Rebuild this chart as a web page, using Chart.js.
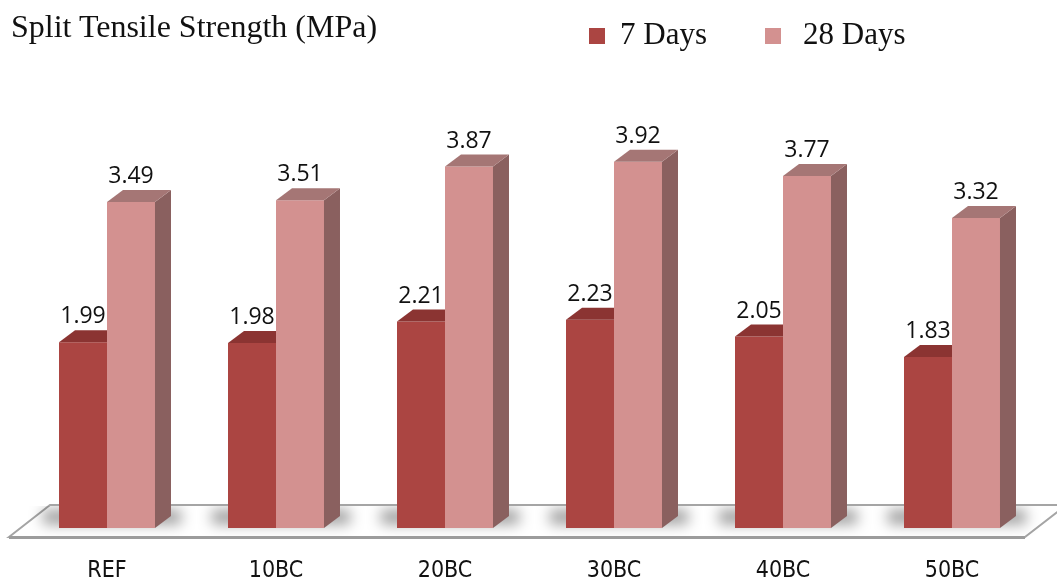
<!DOCTYPE html>
<html><head><meta charset="utf-8">
<script src="https://cdn.jsdelivr.net/npm/chart.js@4"></script>
<style>
html,body{margin:0;padding:0;background:#fff;}
#wrap{position:relative;width:1057px;height:581px;overflow:hidden;background:#fff;}
#box{position:absolute;left:0;top:0;width:1057px;height:581px;}
.title{position:absolute;left:11px;top:10px;font:32px/32px 'Liberation Serif','Times New Roman',serif;color:#111;white-space:nowrap;}
.leg{position:absolute;top:18px;font:31px/31px 'Liberation Serif','Times New Roman',serif;color:#111;white-space:nowrap;}
.sw{position:absolute;top:28px;width:16px;height:16px;}
</style></head><body>
<div id="wrap">
  <div id="box"><canvas id="c"></canvas></div>
  <div class="title" id="title"></div>
  <div id="legend"></div>
</div>
<script>
const chartTitle = 'Split Tensile Strength (MPa)';
const categories = ['REF', '10BC', '20BC', '30BC', '40BC', '50BC'];
const seriesNames = ['7 Days', '28 Days'];
const days7 = [1.99, 1.98, 2.21, 2.23, 2.05, 1.83];
const days28 = [3.49, 3.51, 3.87, 3.92, 3.77, 3.32];
const frontColors = ['#AB4542', '#D39190'];
const topColors = ['#8B3432', '#A57675'];
const sideColors = ['#7A3230', '#8A605F'];

document.getElementById('title').textContent = chartTitle;
const legendPos = [{sw: 589, tx: 620}, {sw: 765, tx: 803}];
const legendEl = document.getElementById('legend');
seriesNames.forEach((n, i) => {
  const s = document.createElement('div');
  s.className = 'sw'; s.style.left = legendPos[i].sw + 'px'; s.style.background = frontColors[i];
  const t = document.createElement('div');
  t.className = 'leg'; t.style.left = legendPos[i].tx + 'px'; t.textContent = n;
  legendEl.appendChild(s); legendEl.appendChild(t);
});

const DX = 16, DY = 12;
function floorPath(ctx, a) {
  const by = a.bottom;
  ctx.beginPath();
  ctx.moveTo(a.left - 13.5, by + 9);
  ctx.lineTo(a.left + 27.5, by - 23);
  ctx.lineTo(a.right + 30, by - 23);
  ctx.lineTo(a.right - 11.5, by + 9);
  ctx.closePath();
}
const bar3d = {
  id: 'bar3d',
  beforeDatasetsDraw(chart) {
    const {ctx, chartArea: a} = chart;
    const by = a.bottom;
    ctx.save();
    floorPath(ctx, a);
    ctx.fillStyle = '#fff'; ctx.fill();
    ctx.lineWidth = 2; ctx.strokeStyle = '#a5a5a5'; ctx.stroke();
    ctx.beginPath();
    ctx.moveTo(a.left - 13.5, by + 9.5); ctx.lineTo(a.right - 11.5, by + 9.5);
    ctx.lineWidth = 3; ctx.strokeStyle = '#9c9c9c'; ctx.stroke();
    ctx.save();
    ctx.beginPath();
    ctx.rect(0, by - 22, chart.width, 30);
    ctx.clip();
    const m0 = chart.getDatasetMeta(0), m1 = chart.getDatasetMeta(1);
    ctx.filter = 'blur(7px)';
    ctx.fillStyle = 'rgba(0,0,0,0.40)';
    m0.data.forEach((b, i) => {
      const b1 = m1.data[i];
      const l = b.x - b.width / 2, r = b1.x + b1.width / 2 + DX;
      ctx.fillRect(l - 16, by - 18, r - l + 26, 14);
    });
    ctx.filter = 'none';
    ctx.restore();
    ctx.restore();
  },
  afterDatasetDraw(chart, args) {
    const ctx = chart.ctx, i = args.index;
    ctx.save();
    args.meta.data.forEach(b => {
      const l = b.x - b.width / 2, r = b.x + b.width / 2, t = b.y, bs = b.base;
      if (i === 0) {
        // front series: its side is hidden behind the taller neighbour bar
        ctx.fillStyle = topColors[i];
        ctx.beginPath();
        ctx.moveTo(l, t); ctx.lineTo(l + DX, t - DY); ctx.lineTo(r, t - DY); ctx.lineTo(r, t);
        ctx.closePath(); ctx.fill();
        return;
      }
      ctx.fillStyle = sideColors[i];
      ctx.beginPath();
      ctx.moveTo(r, t); ctx.lineTo(r + DX, t - DY); ctx.lineTo(r + DX, bs - DY); ctx.lineTo(r, bs);
      ctx.closePath(); ctx.fill();
      ctx.fillStyle = topColors[i];
      ctx.beginPath();
      ctx.moveTo(l, t); ctx.lineTo(l + DX, t - DY); ctx.lineTo(r + DX, t - DY); ctx.lineTo(r, t);
      ctx.closePath(); ctx.fill();
    });
    ctx.restore();
  },
  afterDatasetsDraw(chart) {
    const ctx = chart.ctx;
    ctx.save();
    ctx.font = '23px "Open Sans", "Noto Sans", sans-serif';
    ctx.fillStyle = '#111';
    ctx.textAlign = 'center';
    ctx.textBaseline = 'alphabetic';
    chart.data.datasets.forEach((ds, di) => {
      chart.getDatasetMeta(di).data.forEach((b, j) => {
        ctx.fillText(ds.data[j].toFixed(2), b.x, b.y - DY - 7);
      });
    });
    ctx.restore();
  }
};

new Chart(document.getElementById('c'), {
  type: 'bar',
  data: {
    labels: categories,
    datasets: [
      {label: seriesNames[0], data: days7, backgroundColor: frontColors[0]},
      {label: seriesNames[1], data: days28, backgroundColor: frontColors[1]}
    ]
  },
  options: {
    responsive: true,
    maintainAspectRatio: false,
    animation: false,
    layout: {padding: {top: 61, left: 22.5, right: 20.5, bottom: 0}},
    datasets: {bar: {categoryPercentage: 0.568, barPercentage: 1, borderWidth: 0}},
    plugins: {legend: {display: false}, tooltip: {enabled: false}, title: {display: false}},
    scales: {
      x: {
        grid: {display: false, drawTicks: false},
        border: {display: false},
        ticks: {color: '#111', padding: 29, font: {family: "'Liberation Sans Narrow','DejaVu Sans Condensed',sans-serif", size: 23}},
        afterFit(s) { s.height = 53; }
      },
      y: {display: false, min: 0, max: 5}
    }
  },
  plugins: [bar3d]
});
</script>
</body></html>
